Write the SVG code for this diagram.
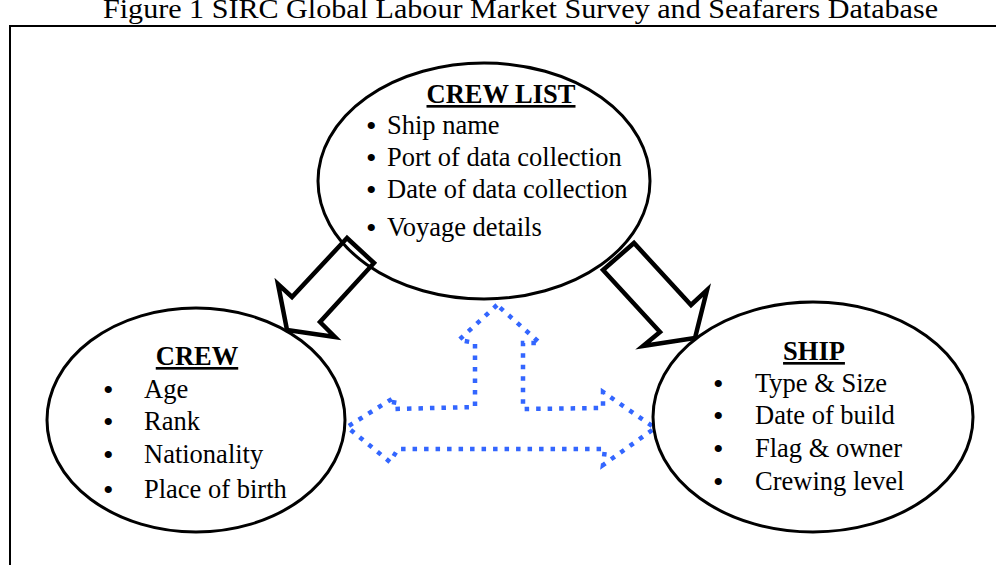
<svg xmlns="http://www.w3.org/2000/svg" width="996" height="565" viewBox="0 0 996 565">
<style>
.t{font-family:"Liberation Serif","Times New Roman",serif;fill:#000;font-size:26.5px}
.h{font-weight:bold;text-decoration:underline;text-anchor:middle}
.b{font-size:30px}
.ell{fill:none;stroke:#000;stroke-width:3}
.blk{fill:#fff;stroke:#000;stroke-width:4.5;stroke-linejoin:miter}
.blue{fill:none;stroke:#3366FF;stroke-width:4.5;stroke-dasharray:4.5 7}
</style>
<rect width="996" height="565" fill="#fff"/>
<text class="t" x="103" y="18" font-size="36" textLength="835" lengthAdjust="spacingAndGlyphs">Figure 1 SIRC Global Labour Market Survey and Seafarers Database</text>
<rect x="10" y="26" width="1000" height="560" fill="none" stroke="#000" stroke-width="2"/>
<g id="connectors">
<polygon class="blk" points="347,238 292,297 278,284 287,330 335,337 320,322 374,263"/>
<polygon class="blk" points="603,270 634,243 691,305 707,290 695,338 643,346 660,332"/>
<polygon class="blue" points="497,305 459,340 475,343 475,407 393,409 395,397 347,427 390,462 398,449 605,449 603,465 655,428 603,392 603,408 523,409 523,350 523,343 540,343"/>
</g>
<g id="crewlist">
<ellipse class="ell" cx="484" cy="181" rx="166" ry="118"/>
<text class="t h" x="501" y="103">CREW LIST</text>
<text class="t b" x="366" y="136">•</text><text class="t" x="387" y="134">Ship name</text>
<text class="t b" x="366" y="168">•</text><text class="t" x="387" y="166">Port of data collection</text>
<text class="t b" x="366" y="200">•</text><text class="t" x="387" y="198">Date of data collection</text>
<text class="t b" x="366" y="238">•</text><text class="t" x="387" y="236">Voyage details</text>
</g>
<g id="crew">
<ellipse class="ell" cx="196" cy="420" rx="149" ry="112"/>
<text class="t h" x="197" y="365">CREW</text>
<text class="t b" x="103" y="400">•</text><text class="t" x="144" y="398">Age</text>
<text class="t b" x="103" y="432">•</text><text class="t" x="144" y="430">Rank</text>
<text class="t b" x="103" y="465">•</text><text class="t" x="144" y="463">Nationality</text>
<text class="t b" x="103" y="500">•</text><text class="t" x="144" y="498">Place of birth</text>
</g>
<g id="ship">
<ellipse class="ell" cx="813" cy="417" rx="160" ry="115"/>
<text class="t h" x="814" y="360">SHIP</text>
<text class="t b" x="713" y="394">•</text><text class="t" x="755" y="392">Type &amp; Size</text>
<text class="t b" x="713" y="426">•</text><text class="t" x="755" y="424">Date of build</text>
<text class="t b" x="713" y="459">•</text><text class="t" x="755" y="457">Flag &amp; owner</text>
<text class="t b" x="713" y="492">•</text><text class="t" x="755" y="490">Crewing level</text>
</g>
</svg>
